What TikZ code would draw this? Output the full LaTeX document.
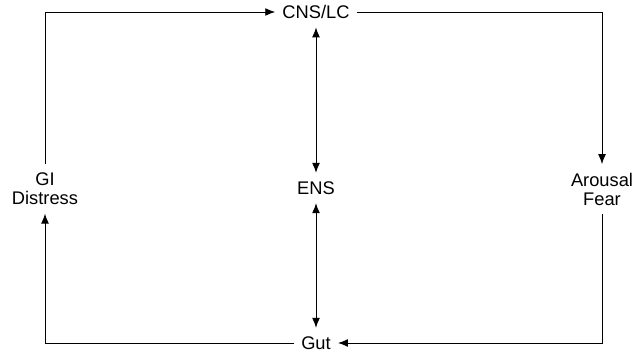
\documentclass[tikz,border=0pt]{standalone}
\usepackage{fontspec}
\setmainfont{Liberation Sans}
\usepackage{tikz}
\usetikzlibrary{arrows.meta}
\tikzstyle{stage} = [align=center, inner xsep=5pt, inner ysep=6pt, font=\fontsize{13}{13.5}\selectfont]
\tikzstyle{flow} = [-{Latex[length=7pt, width=5.5pt]}, line width=0.6pt]
\tikzstyle{link} = [{Latex[length=7pt, width=5.5pt]}-{Latex[length=7pt, width=5.5pt]}, line width=0.6pt]

\begin{document}
\begin{tikzpicture}[x=0.025cm, y=-0.025cm]
    \useasboundingbox (0,0) rectangle (642,352);

    % Centre column
    \node[stage] (cns) at (316,12) {CNS/LC};
    \node[stage] (ens) at (316,188) {ENS};
    \node[stage] (gut) at (316,343) {Gut};

    % Side nodes
    \node[stage] (gi) at (45,189) {GI\\Distress};
    \node[stage] (arousal) at (602,189) {Arousal\\Fear};

    % Outer loop
    \draw[flow] (gi) |- (cns);
    \draw[flow] (cns) -| (arousal);
    \draw[flow] (arousal) |- (gut);
    \draw[flow] (gut) -| (gi);

    % Two-way links
    \draw[link] (cns) -- (ens);
    \draw[link] (ens) -- (gut);
\end{tikzpicture}
\end{document}
